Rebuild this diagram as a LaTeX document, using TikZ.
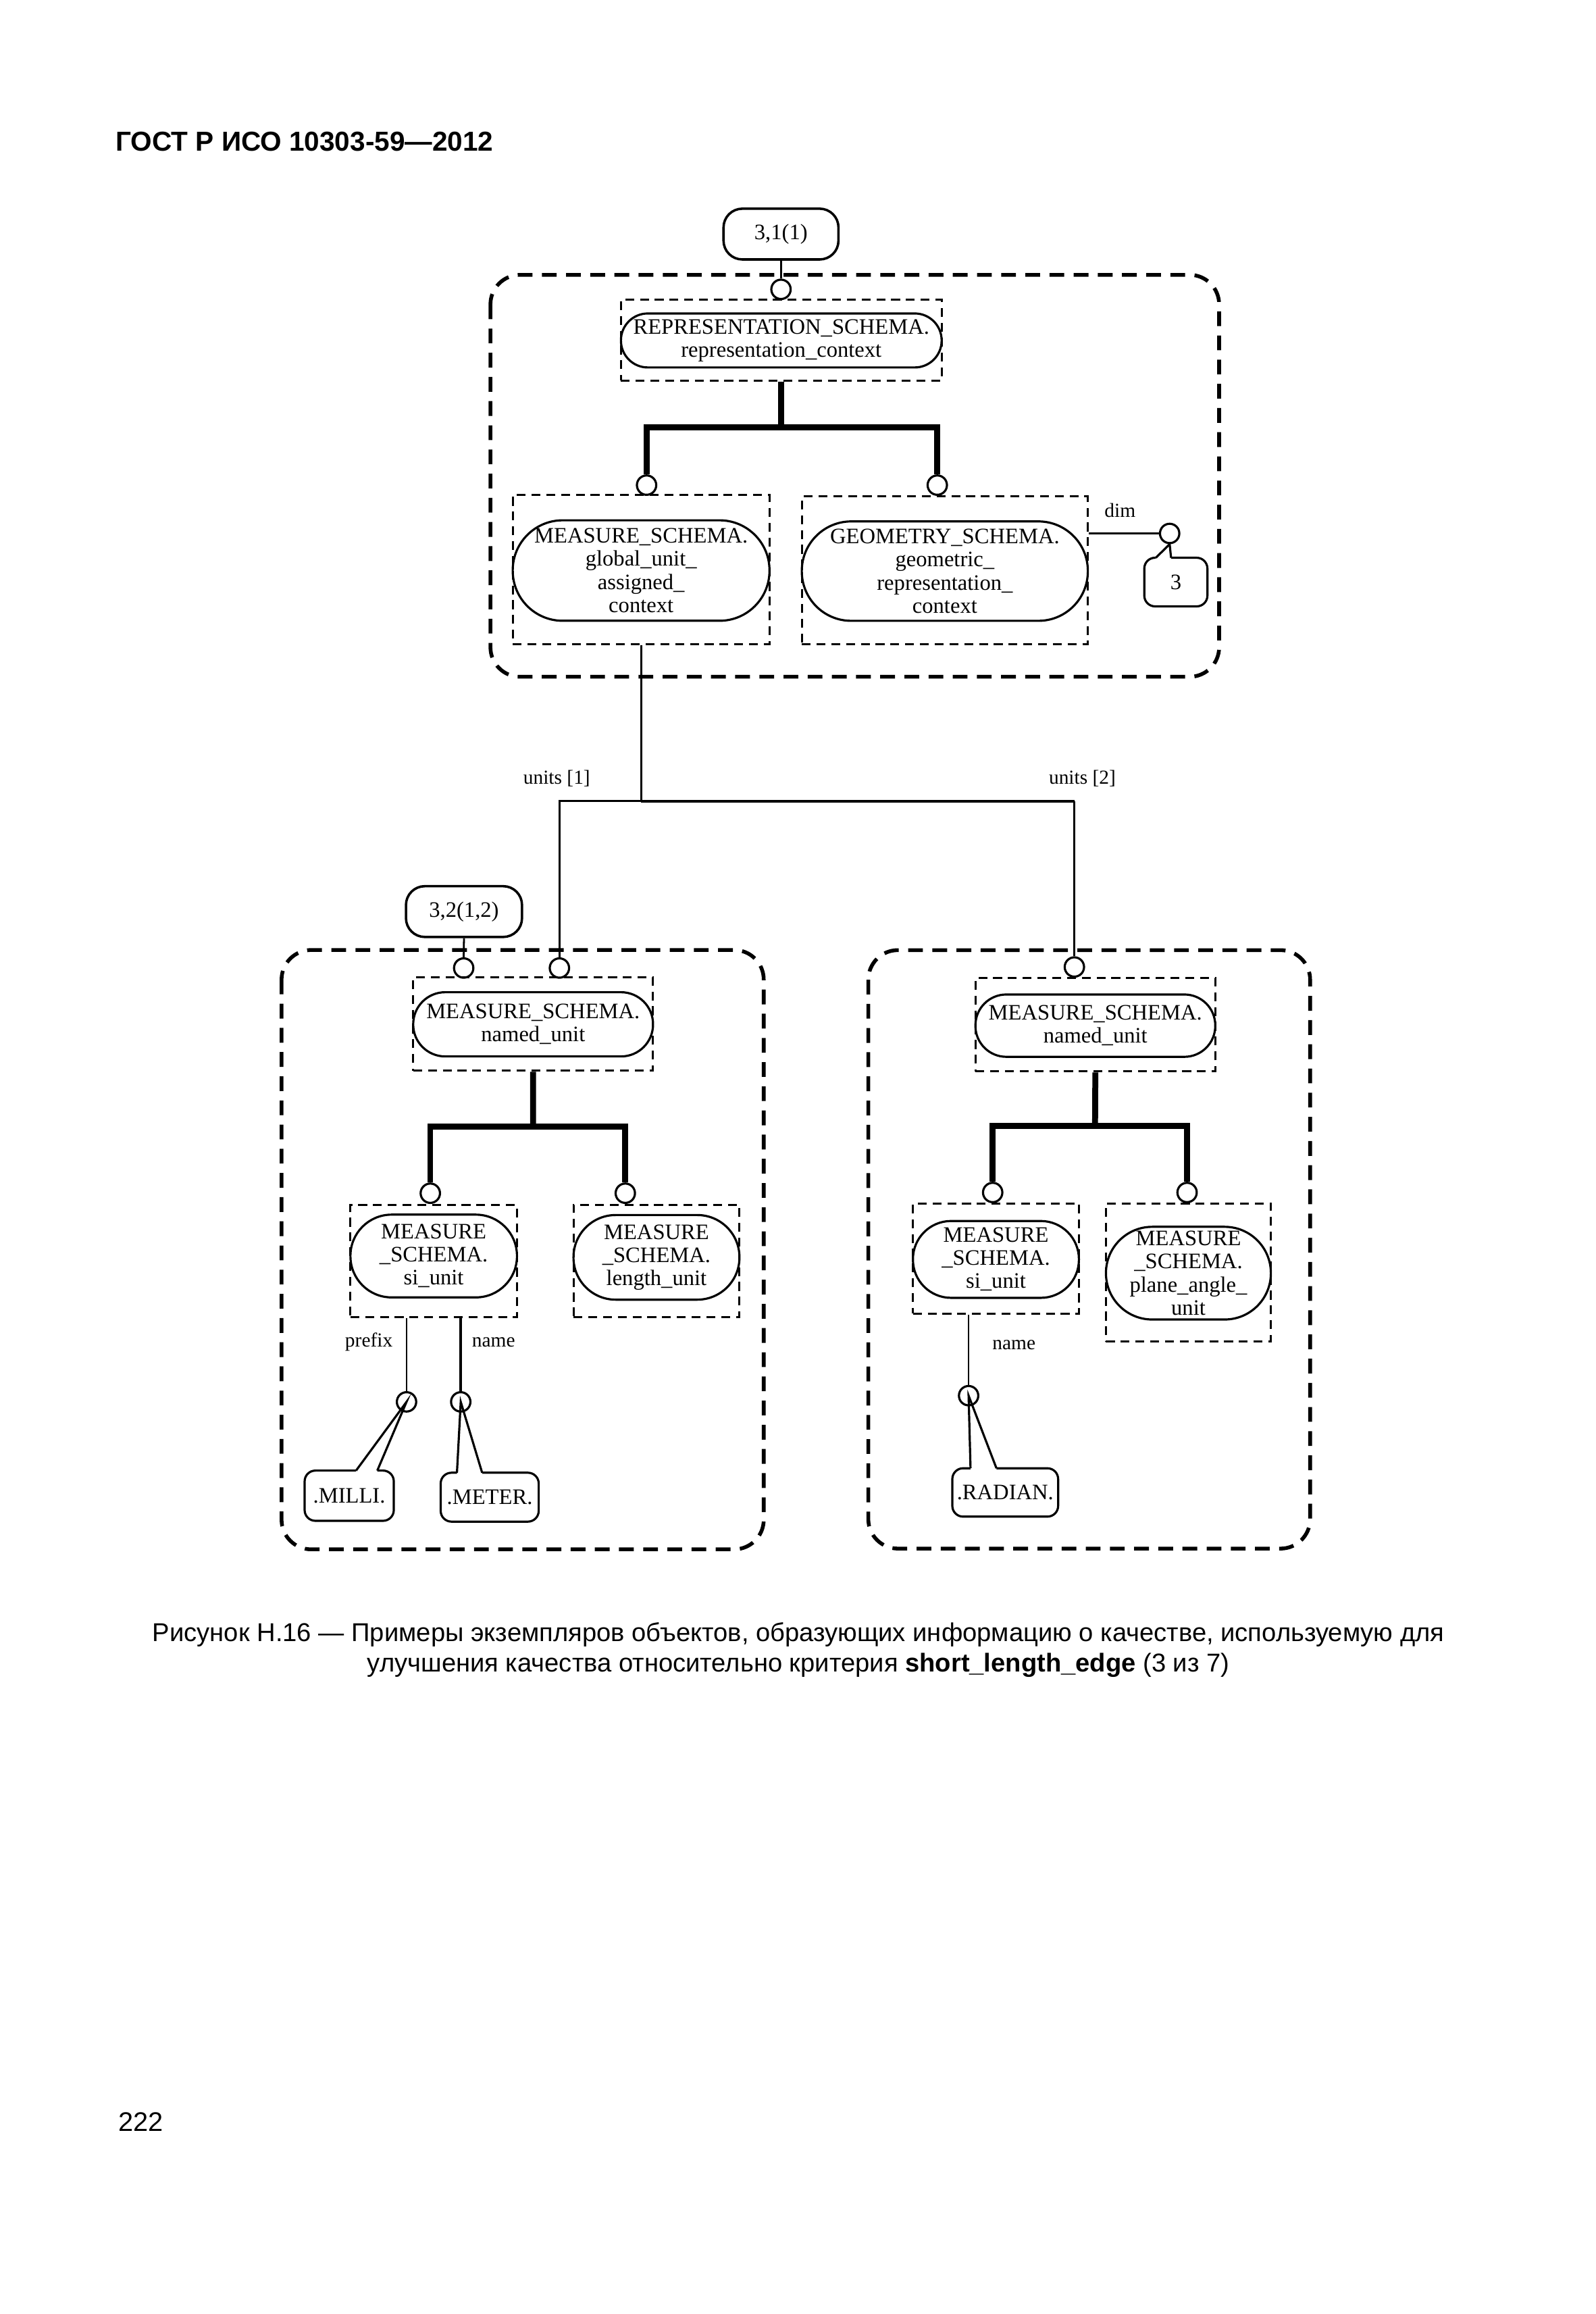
\documentclass[tikz,border=0pt]{standalone}
\usepackage{fontspec}
\setmainfont{Liberation Serif}
\newfontfamily\capfont{Liberation Sans}
\usetikzlibrary{calc}
\usetikzlibrary{positioning}

\newcommand{\entfont}{\fontsize{8.2}{8.6}\selectfont}
\newcommand{\lblfont}{\fontsize{7.4}{8}\selectfont}

\tikzset{
  grpbox/.style={draw, line width=1.4pt, dash pattern=on 5.5pt off 3.5pt, rounded corners=11pt},
  entbox/.style={draw, line width=0.75pt, dash pattern=on 3.3pt off 2.2pt, inner sep=0pt},
  stadium/.style={draw, line width=0.8pt, inner sep=0pt, align=center, font=\entfont},
  refbox/.style={draw, line width=0.9pt, rounded corners=7pt, inner sep=0pt, font=\entfont},
  ring/.style={draw, circle, line width=0.8pt, minimum size=7.2pt, inner sep=0pt},
  valbox/.style={inner sep=0pt, font=\entfont},
  callout/.style={line width=0.8pt},
  supline/.style={line width=2.2pt},
  relline/.style={line width=0.7pt},
  lbl/.style={inner sep=0pt, font=\lblfont}
}

\begin{document}
\begin{tikzpicture}[x=0.55pt,y=-0.55pt]
\useasboundingbox (0,0) rectangle (1080,1566);
% page header
\node[anchor=west, inner sep=0pt, font={\capfont\bfseries\fontsize{10.2}{12}\selectfont}] (head) at (78,96) {ГОСТ Р ИСО 10303-59—2012};

%% group 3,1(1)
\draw[grpbox] (332,186) rectangle (825.3,458);
\node[refbox, minimum width=42.8pt, minimum height=18.9pt] (ref31) at (528.7,158.4) {3,1(1)};
\node[ring] (c31) at (528.7,195.8) {};
\draw[relline] (ref31.south) -- (c31.north);
\node[entbox, minimum width=119.4pt, minimum height=30.1pt] (repbox) at (528.9,230.1) {};
\node[stadium, minimum width=119.4pt, minimum height=20.1pt, rounded corners=10pt] (repent) at (528.9,230.4) {REPRESENTATION\_SCHEMA.\\representation\_context};
\coordinate (tA) at (528.9,289.2);
\node[ring] (cMea) at (437.7,328.3) {};
\node[ring] (cGeo) at (634.5,328.3) {};
\draw[supline] (repbox.south) -- (tA);
\draw[supline] (cMea.north) |- (tA) -| (cGeo.north);
\node[entbox, minimum width=95.6pt, minimum height=55.6pt] (meabox) at (434,385.5) {};
\node[stadium, minimum width=95.6pt, minimum height=37.4pt, rounded corners=18.6pt] (meaent) at (434,386.1) {MEASURE\_SCHEMA.\\global\_unit\_\\assigned\_\\context};
\node[entbox, minimum width=106.5pt, minimum height=55pt] (geobox) at (639.6,386) {};
\node[stadium, minimum width=106.5pt, minimum height=37pt, rounded corners=18.4pt] (geoent) at (639.6,386.5) {GEOMETRY\_SCHEMA.\\geometric\_\\representation\_\\context};
% dim
\node[ring] (cDim) at (791.8,361) {};
\draw[relline, line width=0.9pt] (geobox.east |- cDim) -- (cDim.west);
\node[lbl] (lDim) at (758.2,345.5) {dim};
\node[valbox, minimum width=23.1pt, minimum height=17.7pt] (val3) at (796,393.9) {3};
\coordinate (val3L) at ($(val3.north west)!0.183!(val3.north east)$);
\coordinate (val3R) at ($(val3.north west)!0.424!(val3.north east)$);
\draw[callout, rounded corners=4pt] (val3R) -- (val3.north east) -- (val3.south east) -- (val3.south west) -- (val3.north west) -- (val3L);
\draw[callout] (val3L) -- (cDim.south) -- (val3R);

%% units
\coordinate (jT) at (434,542.2);
\draw[relline] (meabox.south) -- (jT);
\node[ring] (cU1) at (378.7,655.1) {};
\node[ring] (cU2) at (727.3,654.4) {};
\draw[relline] (cU1.north) |- (jT);
\draw[relline, line width=1.1pt] (jT) -- (jT -| cU2);
\draw[relline] (jT -| cU2) -- (cU2.north);
\node[lbl] (lU1) at (376.9,526.7) {units [1]};
\node[lbl] (lU2) at (732.7,526.7) {units [2]};

%% group 3,2(1,2)
\draw[grpbox] (190.6,642.9) rectangle (517,1048.5);
\node[refbox, minimum width=43.2pt, minimum height=18.9pt] (ref32) at (314.1,616.9) {3,2(1,2)};
\node[ring] (cRef32) at (313.9,655.1) {};
\draw[relline] (ref32.south) -- (cRef32.north);
\node[entbox, minimum width=89.3pt, minimum height=34.8pt] (nubox) at (360.9,693) {};
\node[stadium, minimum width=89.3pt, minimum height=23.9pt, rounded corners=11.9pt] (nuent) at (360.9,693.2) {MEASURE\_SCHEMA.\\named\_unit};
\coordinate (tB) at (360.8,762.5);
\node[ring] (cSi) at (291.3,807.5) {};
\node[ring] (cLen) at (423.3,807.5) {};
\draw[supline] (nubox.south) -- (tB);
\draw[supline] (cSi.north) |- (tB) -| (cLen.north);
\node[entbox, minimum width=62pt, minimum height=41.7pt] (sibox) at (293.6,853.3) {};
\node[stadium, minimum width=62pt, minimum height=30.8pt, rounded corners=15.3pt] (sient) at (293.6,850) {MEASURE\\\_SCHEMA.\\si\_unit};
\node[entbox, minimum width=61.8pt, minimum height=41.7pt] (lenbox) at (444.4,853.3) {};
\node[stadium, minimum width=61.8pt, minimum height=31.5pt, rounded corners=15.7pt] (lenent) at (444.4,850.9) {MEASURE\\\_SCHEMA.\\length\_unit};
% prefix and name
\node[ring] (cPre) at (275.2,948.7) {};
\node[ring] (cNam) at (311.9,948.7) {};
\draw[relline] (cPre.north) -- (cPre.north |- sibox.south);
\draw[relline, line width=1.1pt] (cNam.north) -- (cNam.north |- sibox.south);
\node[lbl] (lPre) at (249.7,908.3) {prefix};
\node[lbl] (lNam) at (334.1,908.3) {name};
\node[valbox, minimum width=32.8pt, minimum height=18.3pt] (milli) at (236.4,1012.2) {.MILLI.};
\coordinate (milliL) at ($(milli.north west)!0.577!(milli.north east)$);
\coordinate (milliR) at ($(milli.north west)!0.815!(milli.north east)$);
\draw[callout, rounded corners=4pt] (milliR) -- (milli.north east) -- (milli.south east) -- (milli.south west) -- (milli.north west) -- (milliL);
\draw[callout] (milliL) -- (cPre.center) -- (milliR);
\node[valbox, minimum width=36.1pt, minimum height=17.8pt] (meter) at (331.5,1013.2) {.METER.};
\coordinate (meterL) at ($(meter.north west)!0.166!(meter.north east)$);
\coordinate (meterR) at ($(meter.north west)!0.423!(meter.north east)$);
\draw[callout, rounded corners=4pt] (meterR) -- (meter.north east) -- (meter.south east) -- (meter.south west) -- (meter.north west) -- (meterL);
\draw[callout] (meterL) -- (cNam.center) -- (meterR);

%% group units [2]
\draw[grpbox] (587.8,643) rectangle (886.9,1048);
\node[entbox, minimum width=89.3pt, minimum height=34.8pt] (nu2box) at (741.5,693.5) {};
\node[stadium, minimum width=89.3pt, minimum height=23.2pt, rounded corners=11.5pt] (nu2ent) at (741.5,694.1) {MEASURE\_SCHEMA.\\named\_unit};
\coordinate (tC) at (741.3,762);
\node[ring] (cSi2) at (672,807) {};
\node[ring] (cPla) at (803.6,807) {};
\draw[supline] (nu2box.south) -- (tC);
\draw[supline] (cSi2.north) |- (tC) -| (cPla.north);
\node[entbox, minimum width=61.8pt, minimum height=41pt] (si2box) at (674.2,851.7) {};
\node[stadium, minimum width=61.8pt, minimum height=28.6pt, rounded corners=14.2pt] (si2ent) at (674.2,852.3) {MEASURE\\\_SCHEMA.\\si\_unit};
\node[entbox, minimum width=61.4pt, minimum height=51.4pt] (plabox) at (804.5,861.1) {};
\node[stadium, minimum width=61.4pt, minimum height=34.5pt, rounded corners=17.2pt] (plaent) at (804.5,861.6) {MEASURE\\\_SCHEMA.\\plane\_angle\_\\unit};
% name
\node[ring] (cNam2) at (655.7,944.5) {};
\draw[relline] (cNam2.north) -- (cNam2.north |- si2box.south);
\node[lbl] (lNam2) at (686.4,910.4) {name};
\node[valbox, minimum width=39pt, minimum height=17.6pt] (radian) at (680.5,1010) {.RADIAN.};
\coordinate (radianL) at ($(radian.north west)!0.172!(radian.north east)$);
\coordinate (radianR) at ($(radian.north west)!0.417!(radian.north east)$);
\draw[callout, rounded corners=4pt] (radianR) -- (radian.north east) -- (radian.south east) -- (radian.south west) -- (radian.north west) -- (radianL);
\draw[callout] (radianL) -- (cNam2.center) -- (radianR);

% caption and page number
\node[align=center, inner sep=0pt, font={\capfont\fontsize{9.6}{11.5}\selectfont}] (capt) at (540.5,1116.5) {Рисунок Н.16 — Примеры экземпляров объектов, образующих информацию о качестве, используемую для\\улучшения качества относительно критерия \textbf{short\_length\_edge} (3 из 7)};
\node[anchor=west, inner sep=0pt, font={\capfont\fontsize{10}{12}\selectfont}] (pnum) at (80,1436) {222};
\end{tikzpicture}
\end{document}
